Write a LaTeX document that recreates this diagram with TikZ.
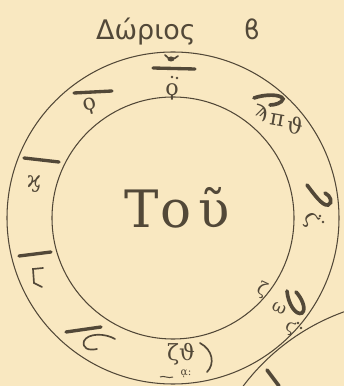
\documentclass[tikz,border=0pt]{standalone}
\usepackage{fontspec}
\newfontfamily\grk{DejaVu Serif}
\newfontfamily\grksans{DejaVu Sans}
\definecolor{paper}{RGB}{249,232,193}
\definecolor{ink}{RGB}{82,72,56}
\begin{document}
\begin{tikzpicture}[x=0.3mm,y=0.3mm,
    ring/.style={ink,line width=0.9pt},
    oligon/.style={ink,line width=1mm,line cap=round},
    hook/.style={ink,line width=1.1mm,line cap=round},
    thin/.style={ink,line width=0.5mm,line cap=round},
    neume/.style={ink,font=\grk\fontsize{19}{19}\selectfont,inner sep=0pt}]
  \fill[paper] (0,0) rectangle (344,386);
  \useasboundingbox (0,0) rectangle (344,386);
  \coordinate (C) at (173,168);
  % title
  \node[ink,anchor=base,font=\grksans\fontsize{23}{23}\selectfont] (title) at (146,346) {Δώριος};
  \node[ink,anchor=base,font=\grksans\fontsize{23}{23}\selectfont] (mode) at (252,346) {ϐ};
  % the two circles
  \draw[ring] (C) circle[radius=166];
  \draw[ring] (C) circle[radius=121];
  % the next figure, cut off
  \begin{scope}
    \clip (0,0) rectangle (344,386);
    \draw[ring] (418,-132) circle[radius=219];
    \draw[hook] (267,16) -- (279,0);
  \end{scope}
  % centre
  \node[ink,anchor=base,font=\grk\fontsize{44}{44}\selectfont] (t1) at (142,158) {Τ};
  \node[ink,anchor=base,font=\grk\fontsize{44}{44}\selectfont] (t2) at (176,158) {ο};
  \node[ink,anchor=base,font=\grk\fontsize{44}{44}\selectfont] (t3) at (214,158) {ῦ};
  % top
  \draw[thin] (165,331) .. controls (169,326) and (174,326) .. (178,330);
  \fill[ink] (171,327) ellipse[x radius=3.5,y radius=2.5];
  \draw[oligon] (153,318) -- (195,317);
  \fill[ink] (172,309) circle[radius=1.4] (177,308) circle[radius=1.4];
  \node[neume] (n1) at (172,294) {ϙ};
  % upper left
  \draw[oligon] (74,293) -- (112,295);
  \node[neume,rotate=15] (n2) at (90,280) {ϙ};
  % left
  \draw[oligon] (24,228) -- (59,224);
  \node[neume] (n3) at (34,202) {ϗ};
  % lower left
  \draw[oligon] (19,130) -- (51,134);
  \draw[thin] (43,118) -- (33,117) -- (34,103) -- (42,99);
  \draw[oligon] (66,54) -- (101,59);
  \draw[thin] (115,47) .. controls (105,53) and (88,53) .. (84,45) .. controls (82,38) and (88,35) .. (97,37);
  % bottom
  \node[neume] (n6) at (181,32) {ζϑ};
  \draw[thin] (200,43) .. controls (213,36) and (215,22) .. (207,14);
  \node[ink,font=\grk\fontsize{9}{9}\selectfont,inner sep=0pt] (n6b) at (186,12) {ᾳ:};
  \draw[ink,line width=0.3mm] (160,9) .. controls (164,11) and (168,7) .. (173,9);
  % lower right
  \draw[hook] (287,95) .. controls (288,82) and (296,70) .. (302,73) .. controls (307,77) and (301,89) .. (296,94);
  \node[neume,rotate=-25,font=\grk\fontsize{15}{15}\selectfont] (n7) at (262,96) {ζ};
  \node[neume,rotate=-25,font=\grk\fontsize{15}{15}\selectfont] (n7a) at (279,78) {ω};
  \node[neume,rotate=-25,font=\grk\fontsize{15}{15}\selectfont] (n7b) at (290,58) {ϛ};
  \fill[ink] (298,63) circle[radius=1.4] (301,58) circle[radius=1.4];
  % right
  \draw[hook] (307,201) .. controls (314,192) and (322,180) .. (328,181) .. controls (333,183) and (331,190) .. (325,193);
  \node[neume,rotate=-60] (n8) at (311,166) {ϛ};
  \fill[ink] (320,170) circle[radius=1.4] (323,164) circle[radius=1.4];
  % upper right
  \draw[hook] (254,288) .. controls (265,292) and (281,292) .. (283,287) .. controls (282,283) and (275,281) .. (270,281);
  \node[neume,rotate=-10] (n9) at (261,273) {ϡ};
  \node[neume,rotate=-10] (n9a) at (277,266) {π};
  \node[neume,rotate=-10] (n9b) at (295,260) {ϑ};
\end{tikzpicture}
\end{document}
